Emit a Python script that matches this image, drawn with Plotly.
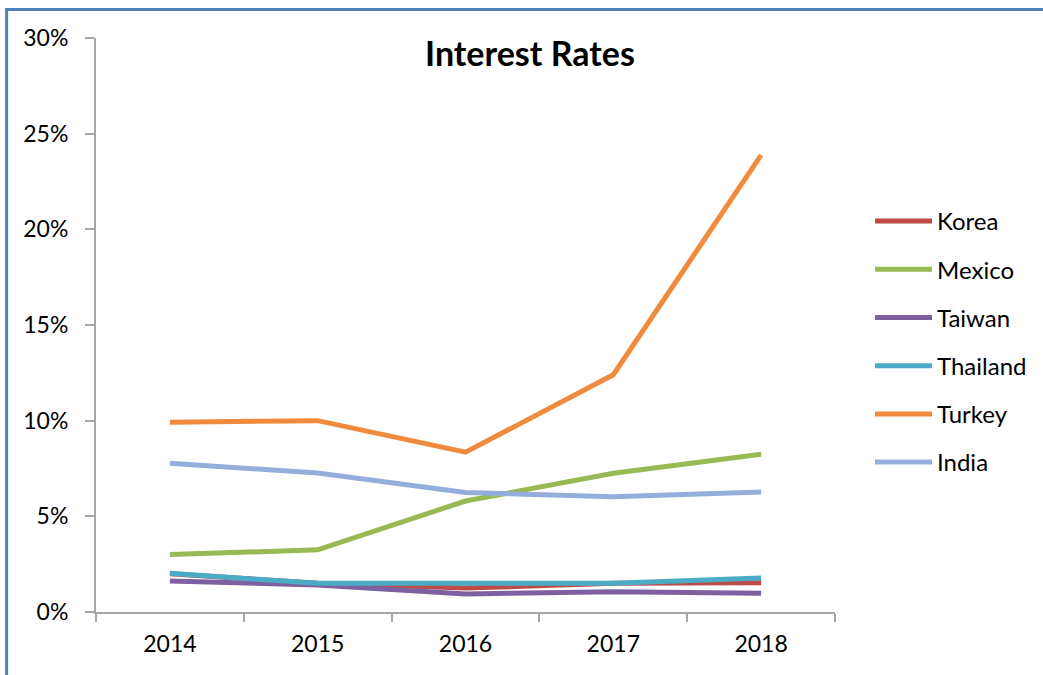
import plotly.graph_objects as go

years = ["2014", "2015", "2016", "2017", "2018"]
korea = [0.0200, 0.0150, 0.0125, 0.0150, 0.0153]
mexico = [0.0300, 0.0325, 0.0580, 0.0725, 0.0825]
taiwan = [0.0162, 0.0141, 0.0094, 0.0106, 0.0098]
thailand = [0.0202, 0.0150, 0.0150, 0.0150, 0.0178]
turkey = [0.0992, 0.1000, 0.0835, 0.1240, 0.2388]
india = [0.0777, 0.0727, 0.0625, 0.0603, 0.0627]

series = [
    ("Korea", korea, "#BE4B48"),
    ("Mexico", mexico, "#98B954"),
    ("Taiwan", taiwan, "#7D60A0"),
    ("Thailand", thailand, "#4AACC5"),
    ("Turkey", turkey, "#F08A3C"),
    ("India", india, "#94AEDB"),
]

FONT = "Lato, Carlito, Calibri, sans-serif"

fig = go.Figure()
for name, vals, col in series:
    fig.add_trace(go.Scatter(
        x=years, y=vals, name=name, mode="lines", legendgroup=name,
        line=dict(color=col, width=5),
    ))

W, H = 1043, 675
L, R, T, B = 96, 207, 38, 63
pw, ph = W - L - R, H - T - B

def px(p):
    return (p - L) / pw

def py(p):
    return (H - B - p) / ph

fig.update_layout(
    width=W, height=H,
    margin=dict(l=L, r=R, t=T, b=B),
    paper_bgcolor="white", plot_bgcolor="white",
    font=dict(family=FONT, size=23, color="#000000"),
    title=dict(text="<b>Interest Rates</b>", x=530 / W, xanchor="center",
               y=1 - 54 / H, yanchor="middle", xref="container", yref="container",
               font=dict(family=FONT, size=34, color="#000000")),
    showlegend=True,
    legend=dict(x=px(870), xanchor="left", y=py(199), yanchor="top",
                traceorder="grouped", tracegroupgap=14, itemwidth=57,
                font=dict(family=FONT, size=24, color="#000000"),
                bgcolor="rgba(0,0,0,0)"),
    xaxis=dict(type="category", range=[-0.5, 4.5], showgrid=False, zeroline=False,
               showline=True, linecolor="#A6A6A6", linewidth=2,
               ticks="outside", ticklen=8, tickcolor="#A6A6A6", tickwidth=2,
               tickson="boundaries", ticklabelstandoff=10,
               tickfont=dict(family=FONT, size=23, color="#000000")),
    yaxis=dict(range=[0, 0.30], dtick=0.05, tickformat=".0%", showgrid=False,
               zeroline=False, showline=True, linecolor="#A6A6A6", linewidth=2,
               ticks="outside", ticklen=9, tickcolor="#A6A6A6", tickwidth=2,
               ticklabelstandoff=12,
               tickfont=dict(family=FONT, size=23, color="#000000")),
    shapes=[
        dict(type="line", xref="paper", yref="paper",
             x0=px(6.5), x1=px(6.5), y0=py(8), y1=py(680),
             line=dict(color="#4F81BD", width=3)),
        dict(type="line", xref="paper", yref="paper",
             x0=px(5), x1=px(1050), y0=py(9.5), y1=py(9.5),
             line=dict(color="#4F81BD", width=3)),
    ],
)

fig.write_html("out.html")
